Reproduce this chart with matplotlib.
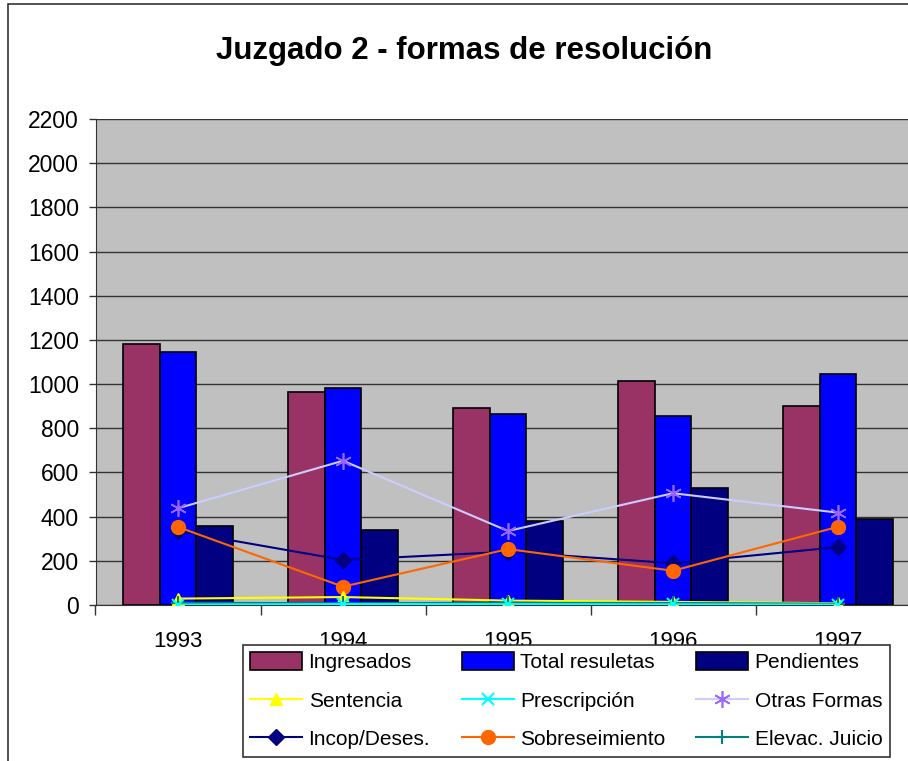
import numpy as np
import matplotlib
matplotlib.use("Agg")
import matplotlib.pyplot as plt
from matplotlib.patches import Rectangle

plt.rcParams['font.family'] = ['Liberation Sans', 'DejaVu Sans']

# data
years = ['1993', '1994', '1995', '1996', '1997']
ingresados = [1180, 966, 893, 1014, 902]
total_resueltas = [1147, 984, 866, 857, 1047]
pendientes = [359, 341, 380, 531, 388]

sentencia = [29, 36, 20, 14, 8]
prescripcion = [2, 4, 4, 3, 2]
otras_formas = [438, 653, 335, 506, 418]
incop_deses = [335, 204, 241, 189, 262]
sobreseimiento = [353, 83, 253, 155, 354]
elevac_juicio = [10, 8, 10, 9, 6]

fig = plt.figure(figsize=(9.08, 7.61), dpi=100)
ax = fig.add_axes([95.5 / 908, 1 - 605 / 761, 825 / 908, 486 / 761])

x = np.arange(len(years))
w = 0.224

ax.set_facecolor('#C0C0C0')
ax.set_axisbelow(True)
ax.grid(axis='y', color='#333333', lw=1.0)

b1 = ax.bar(x - w, ingresados, w, color='#993366', edgecolor='black', lw=1.2, zorder=2)
b2 = ax.bar(x, total_resueltas, w, color='#0000FF', edgecolor='black', lw=1.2, zorder=2)
b3 = ax.bar(x + w, pendientes, w, color='#000080', edgecolor='black', lw=1.2, zorder=2)

l_inc, = ax.plot(x, incop_deses, color='#000080', lw=1.5, marker='D', ms=8, zorder=3)
l_sob, = ax.plot(x, sobreseimiento, color='#FF6600', lw=1.5, marker='o', ms=10, zorder=4)
l_otr, = ax.plot(x, otras_formas, color='#CCCCFF', lw=1.5, marker=(6, 2, 0), ms=12,
                 mec='#9966FF', mew=1.2, zorder=4)
l_sen, = ax.plot(x, sentencia, color='#FFFF00', lw=1.5, marker='^', ms=9, zorder=4)
l_ele, = ax.plot(x, elevac_juicio, color='#008080', lw=1.5, marker='+', ms=10, mew=1.5, zorder=5)
l_pre, = ax.plot(x, prescripcion, color='#00FFFF', lw=1.5, marker='x', ms=9, mew=1.5, zorder=5)

ax.set_xlim(-0.5, 4.5)
ax.set_ylim(0, 2200)
ax.set_yticks(np.arange(0, 2201, 200))
ax.tick_params(axis='y', labelsize=16.5, length=5, width=1, color='#333333', pad=7)

ax.set_xticks(x)
ax.set_xticklabels(years)
ax.tick_params(axis='x', which='major', length=0, labelsize=16, pad=19)
ax.set_xticks(np.arange(-0.5, 4.6, 1), minor=True)
ax.tick_params(axis='x', which='minor', length=7, width=1, color='#333333')

for s in ['top', 'right']:
    ax.spines[s].set_visible(False)
ax.spines['left'].set_color('#333333')
ax.spines['bottom'].set_color('#333333')

fig.text(464 / 908, 1 - 51 / 761, 'Juzgado 2 - formas de resolución', ha='center', va='center',
         fontsize=22.5, fontweight='bold')

# chart border
fig.patches.append(Rectangle((8 / 908, -0.1), 1.0, 1.1 - 4 / 761, transform=fig.transFigure,
                             fill=False, edgecolor='#333333', lw=1.2))

handles = [b1, l_sen, l_inc, b2, l_pre, l_sob, b3, l_otr, l_ele]
labels = ['Ingresados', 'Sentencia', 'Incop/Deses.', 'Total resuletas', 'Prescripción',
          'Sobreseimiento', 'Pendientes', 'Otras Formas', 'Elevac. Juicio']
leg = fig.legend(handles, labels, ncol=3, loc='upper left',
                 bbox_to_anchor=(243 / 908, 1 - 645 / 761), fontsize=15,
                 frameon=True, fancybox=False, edgecolor='#333333', framealpha=1,
                 handlelength=2.5, handleheight=0.9, labelspacing=0.9, columnspacing=1.5,
                 borderpad=0.35, handletextpad=0.3, borderaxespad=0)
leg.get_frame().set_linewidth(1.2)

fig.savefig('out.png', dpi=100)
